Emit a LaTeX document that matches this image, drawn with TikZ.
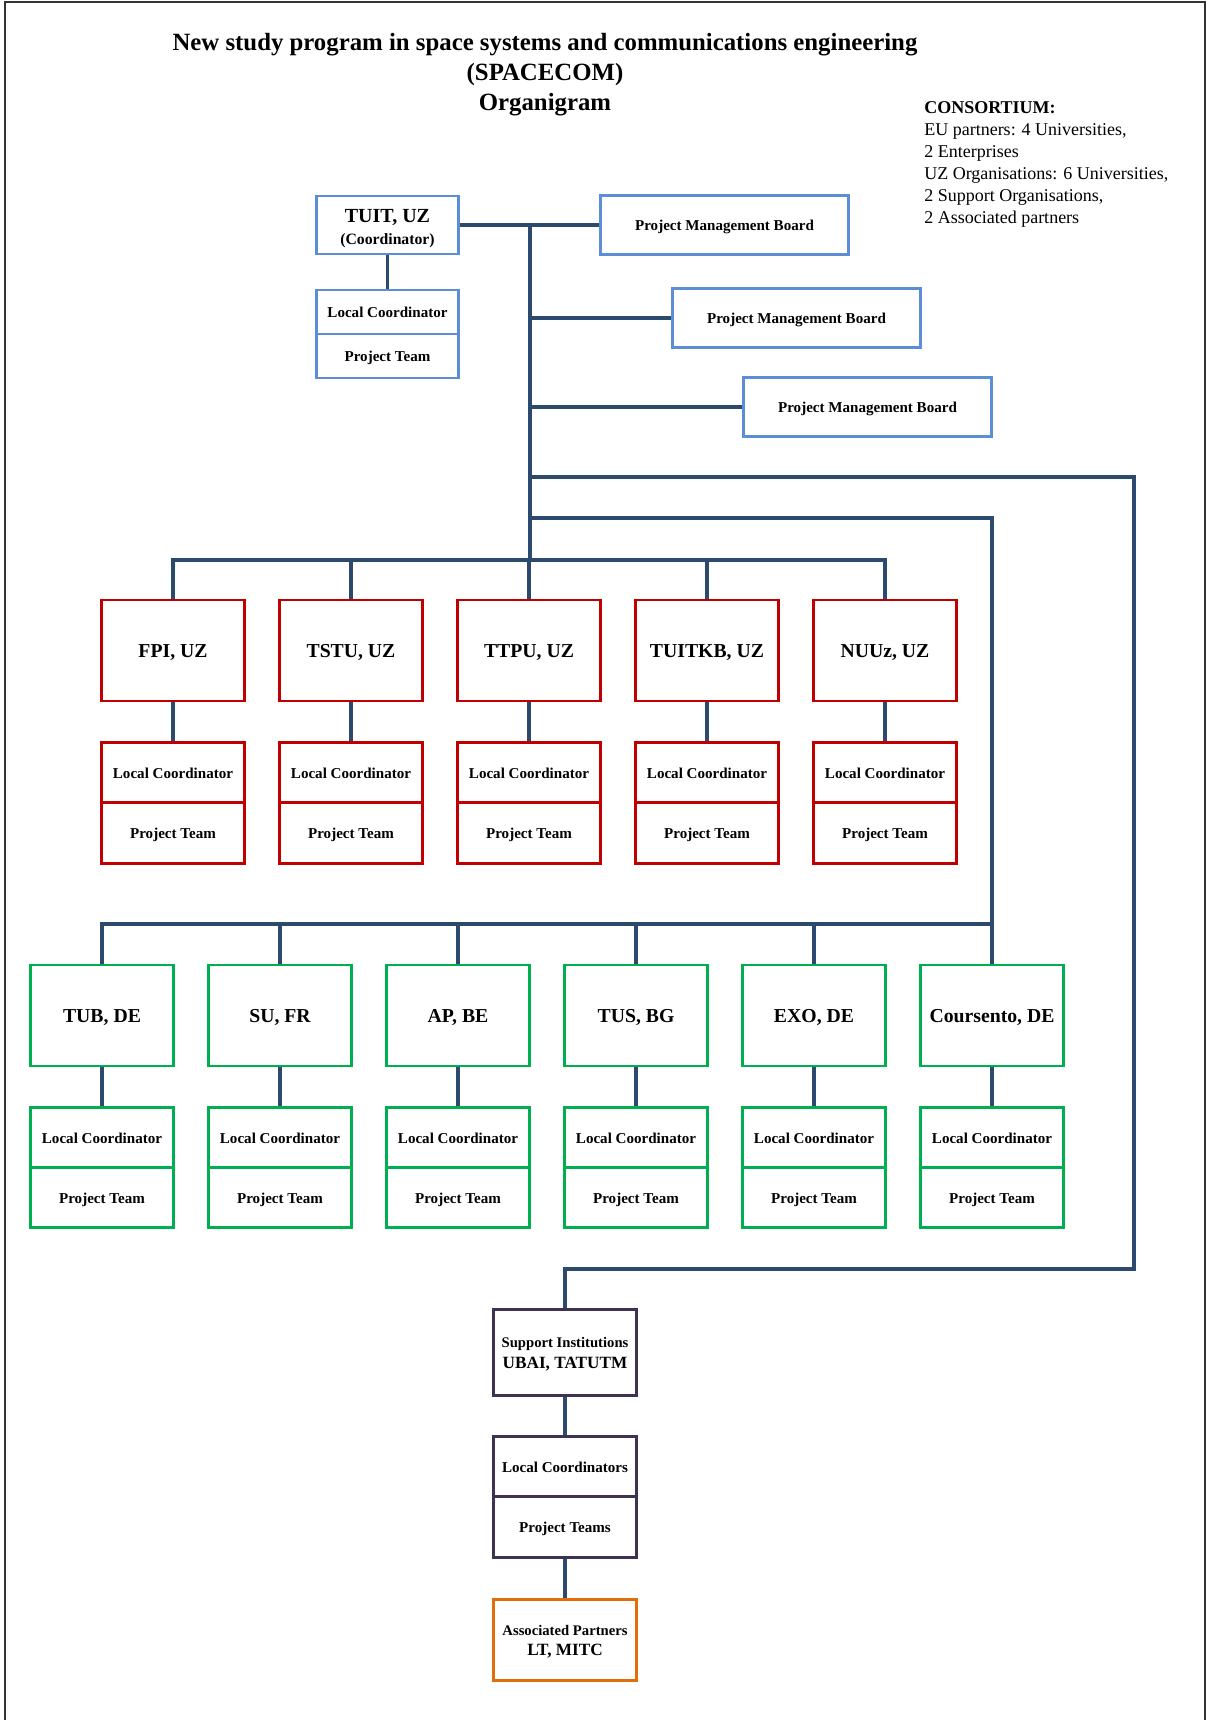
\documentclass[tikz,border=0pt]{standalone}
\usepackage{fontspec}
\setmainfont{Liberation Serif}
\definecolor{navy}{HTML}{2C4A6E}
\definecolor{bblue}{HTML}{5B8ED6}
\definecolor{bred}{HTML}{C00000}
\definecolor{bgreen}{HTML}{00B050}
\definecolor{bpurple}{HTML}{3F3151}
\definecolor{borange}{HTML}{E46C0A}
\begin{document}
\begin{tikzpicture}[x=0.75pt,y=-0.75pt,
  box/.style={draw, line width=2.1pt, fill=white, inner sep=0pt, align=center, font=\bfseries, minimum width=107pt},
  bigbox/.style={box, minimum height=75.75pt, text height=11.1pt, text depth=0pt, font=\fontsize{14.8}{17}\selectfont\bfseries},
  lcbox/.style={box, minimum height=45.5pt, text height=8.6pt, text depth=0pt, font=\fontsize{11.3}{13}\selectfont\bfseries},
  pmbbox/.style={box, minimum width=186.5pt, minimum height=44pt, text height=8.6pt, text depth=0pt, font=\fontsize{11.3}{13}\selectfont\bfseries},
  conn/.style={draw=navy, line width=2.3pt},
  frameline/.style={draw=black!80, line width=1.1pt}
]
\useasboundingbox (0,0) rectangle (1206,1720);
\draw[frameline] (5,1720) -- (5,2) -- (1205,2) -- (1205,1720);

% Title
\node[font=\fontsize{18.6}{22.5}\selectfont\bfseries, align=center] (title) at (545,75)
  {New study program in space systems and communications engineering\\(SPACECOM)\\Organigram};

% Consortium
\node[anchor=north west, align=left, inner sep=0pt, font=\fontsize{13.5}{16.6}\selectfont] (cons) at (924,101)
  {\textbf{CONSORTIUM:}\\EU partners: 4 Universities,\\2 Enterprises\\UZ Organisations: 6 Universities,\\2 Support Organisations,\\2 Associated partners};

% Coordinator
\node[box, draw=bblue, minimum height=43.5pt, font=\fontsize{11.8}{16.5}\selectfont\bfseries] (tuit) at (387.5,225)
  {\rule{0pt}{15.2pt}{\fontsize{15}{16.5}\selectfont TUIT, UZ}\\(Coordinator)};
\node[box, draw=bblue, minimum height=33pt, text height=8.6pt, text depth=0pt, font=\fontsize{11.3}{13}\selectfont\bfseries] (tuitlc) at (387.5,312) {Local Coordinator};
\node[box, draw=bblue, minimum height=33pt, text height=8.6pt, text depth=0pt, font=\fontsize{11.3}{13}\selectfont\bfseries] (tuitpt) at (387.5,356) {Project Team};

% Project Management Boards
\node[pmbbox, draw=bblue] (pmb1) at (724.5,225) {Project Management Board};
\node[pmbbox, draw=bblue] (pmb2) at (796.5,318) {Project Management Board};
\node[pmbbox, draw=bblue] (pmb3) at (867.5,407) {Project Management Board};

% Red row
\foreach \i/\x/\t in {1/173/{FPI, UZ},2/351/{TSTU, UZ},3/529/{TTPU, UZ},4/707/{TUITKB, UZ},5/885/{NUUz, UZ}}{
  \node[bigbox, draw=bred] (r\i) at (\x,650.5) {\t};
  \node[lcbox, draw=bred] (r\i lc) at (\x,772.5) {Local Coordinator};
  \node[lcbox, draw=bred] (r\i pt) at (\x,833) {Project Team};
}

% Green row
\foreach \i/\x/\t in {1/102/{TUB, DE},2/280/{SU, FR},3/458/{AP, BE},4/636/{TUS, BG},5/814/{EXO, DE},6/992/{Coursento, DE}}{
  \node[bigbox, draw=bgreen] (g\i) at (\x,1015.5) {\t};
  \node[lcbox, draw=bgreen] (g\i lc) at (\x,1137.5) {Local Coordinator};
  \node[lcbox, draw=bgreen] (g\i pt) at (\x,1197.5) {Project Team};
}

% Support institutions
\node[box, draw=bpurple, minimum height=65pt, font=\fontsize{11}{15.75}\selectfont\bfseries] (sup) at (565,1352.5)
  {\rule{0pt}{10.8pt}Support Institutions\\{\fontsize{12.9}{15.75}\selectfont UBAI, TATUTM}};
\node[lcbox, draw=bpurple] (suplc) at (565,1467) {Local Coordinators};
\node[lcbox, draw=bpurple] (suppt) at (565,1527) {Project Teams};
\node[box, draw=borange, minimum height=61pt, font=\fontsize{11}{15}\selectfont\bfseries] (assoc) at (565,1640)
  {\rule{0pt}{10.7pt}Associated Partners\\{\fontsize{12.9}{15}\selectfont LT, MITC}};

% Junction coordinates
\coordinate (tj) at (530,225);
\coordinate (sj) at (530,477);
\coordinate (gj) at (530,518);
\coordinate (rbus) at (530,560);
\coordinate (gbus) at (992,924);
\coordinate (sr) at (1134,1269);

% Connectors
\begin{scope}[conn]
\draw[conn] (tuit.east) -- (pmb1.west);
\draw[conn] (tuit.south) -- (tuitlc.north);
\draw[conn] (tj) -- (rbus);
\draw[conn] (tj |- pmb2.west) -- (pmb2.west);
\draw[conn] (tj |- pmb3.west) -- (pmb3.west);
\draw[conn] (r1.north) |- (rbus) -| (r5.north);
\foreach \i in {2,3,4}{\draw[conn] (r\i.north) -- (r\i.north |- rbus);}
\foreach \i in {1,...,5}{\draw[conn] (r\i.south) -- (r\i lc.north);}
\draw[conn] (gj) -| (g6.north);
\draw[conn] (g1.north) |- (gbus);
\foreach \i in {2,...,5}{\draw[conn] (g\i.north) -- (g\i.north |- gbus);}
\foreach \i in {1,...,6}{\draw[conn] (g\i.south) -- (g\i lc.north);}
\draw[conn] (sj) -| (sr) -| (sup.north);
\draw[conn] (sup.south) -- (suplc.north);
\draw[conn] (suppt.south) -- (assoc.north);
\end{scope}
\end{tikzpicture}
\end{document}
